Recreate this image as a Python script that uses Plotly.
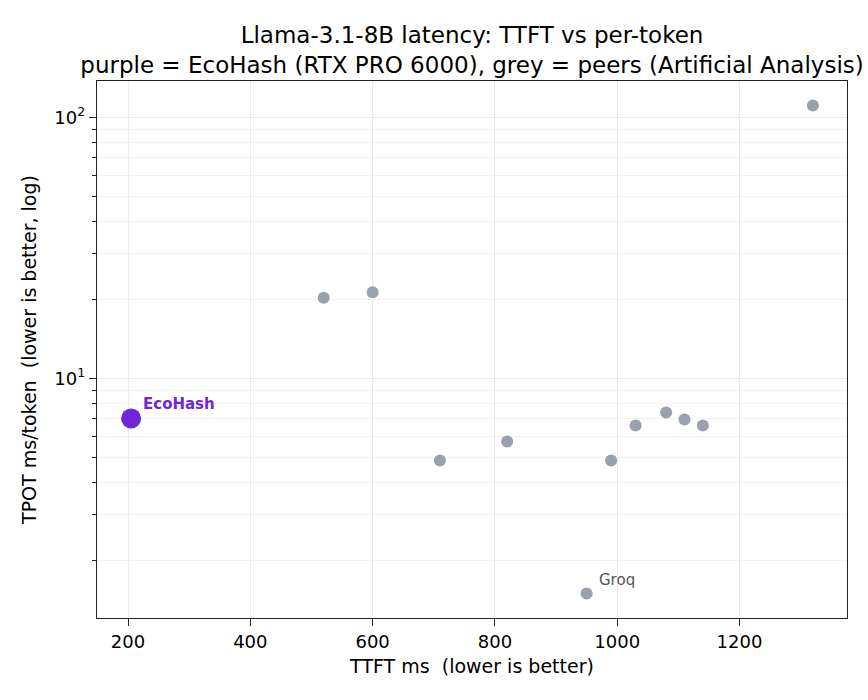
import math
import plotly.graph_objects as go

# Data
peer_ttft = [520, 600, 710, 820, 950, 990, 1030, 1080, 1110, 1140, 1320]
peer_tpot = [20.4, 21.4, 4.85, 5.74, 1.50, 4.85, 6.61, 7.41, 6.97, 6.61, 111]
peer_labels = ["", "", "", "", "Groq", "", "", "", "", "", ""]
eco_ttft = [205]
eco_tpot = [7.03]
eco_label = "EcoHash"

x_ticks = [200, 400, 600, 800, 1000, 1200]
y_ticks = [10, 100]
y_ticktext = ["10<sup>1</sup>", "10<sup>2</sup>"]
y_minor = [2, 3, 4, 5, 6, 7, 8, 9, 20, 30, 40, 50, 60, 70, 80, 90]

FONT = "DejaVu Sans"
PURPLE = "#6d28d9"
GREY = "#9aa0ac"

fig = go.Figure()
fig.add_trace(go.Scatter(x=peer_ttft, y=peer_tpot, mode="markers",
                         marker=dict(size=12, color=GREY, line=dict(width=0)),
                         hoverinfo="skip", showlegend=False))
fig.add_trace(go.Scatter(x=eco_ttft, y=eco_tpot, mode="markers",
                         marker=dict(size=20, color=PURPLE, line=dict(width=0)),
                         hoverinfo="skip", showlegend=False))

fig.add_annotation(x=eco_ttft[0], y=math.log10(eco_tpot[0]), xref="x", yref="y",
                   text="<b>" + eco_label + "</b>",
                   showarrow=False, xanchor="left", yanchor="middle", xshift=10, yshift=14,
                   font=dict(family=FONT, size=15, color=PURPLE))
for xv, yv, lab in zip(peer_ttft, peer_tpot, peer_labels):
    if lab:
        fig.add_annotation(x=xv, y=math.log10(yv), xref="x", yref="y", text=lab,
                           showarrow=False, xanchor="left", yanchor="middle",
                           xshift=10, yshift=14, font=dict(family=FONT, size=15, color="#555555"))

fig.update_layout(
    width=868, height=700,
    margin=dict(l=97, r=21, t=81, b=82),
    paper_bgcolor="white", plot_bgcolor="white",
    font=dict(family=FONT, size=18, color="black"),
    title=dict(text="Llama-3.1-8B latency: TTFT vs per-token<br>purple = EcoHash (RTX PRO 6000), grey = peers (Artificial Analysis)",
               x=0.5438, xref="container", xanchor="center", y=1 - 43 / 700, yref="container", yanchor="top",
               font=dict(family=FONT, size=23, color="black")),
)
fig.update_xaxes(range=[149.25, 1375.75], tickvals=x_ticks, ticks="outside", ticklen=7,
                 tickcolor="#222", tickwidth=1.3, showline=True, linecolor="#222", linewidth=1.3,
                 mirror=True, showgrid=True, gridcolor="#ebebeb", gridwidth=1, zeroline=False,
                 tickfont=dict(size=18), title=dict(text="TTFT ms  (lower is better)", font=dict(size=19), standoff=8))
fig.update_yaxes(type="log", range=[0.0825, 2.1395], tickvals=y_ticks, ticktext=y_ticktext,
                 ticks="outside", ticklen=7, tickcolor="#222", tickwidth=1.3,
                 showline=True, linecolor="#222", linewidth=1.3, mirror=True,
                 showgrid=True, gridcolor="#ebebeb", gridwidth=1, zeroline=False,
                 tickfont=dict(size=18),
                 minor=dict(tickvals=y_minor, ticks="outside", ticklen=4, tickcolor="#222", tickwidth=1,
                            showgrid=True, gridcolor="#f2f2f2", gridwidth=1),
                 title=dict(text="TPOT ms/token  (lower is better, log)", font=dict(size=19), standoff=12))

fig.write_html("out.html")
